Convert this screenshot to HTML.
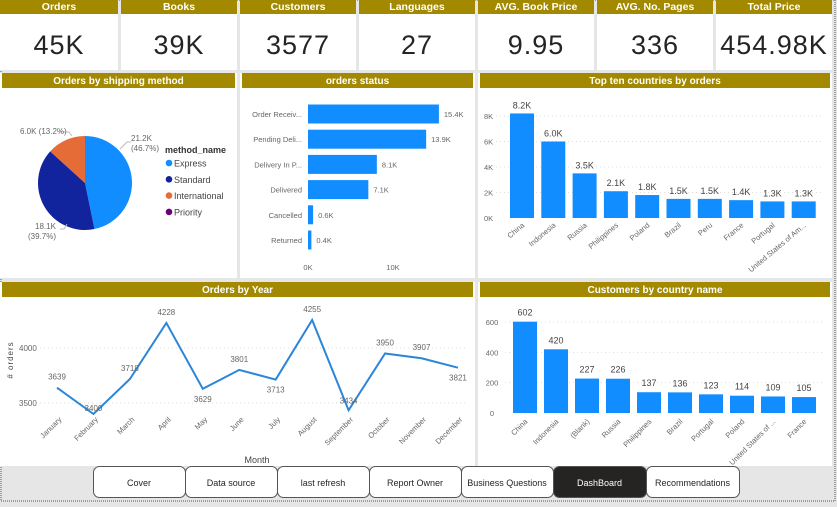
<!DOCTYPE html>
<html><head><meta charset="utf-8"><style>
html,body{margin:0;padding:0;background:#e6e6e6;}
body{width:837px;height:502px;overflow:hidden;position:relative;font-family:"Liberation Sans",sans-serif;}
svg text{font-family:"Liberation Sans",sans-serif;}
</style></head><body>
<svg id="dash" width="837" height="502" viewBox="0 0 837 502" xmlns="http://www.w3.org/2000/svg">
<rect x="0" y="0" width="837" height="502" fill="#e6e6e6"/>
<rect x="1" y="0" width="834" height="501" fill="none" stroke="#555" stroke-width="1" stroke-dasharray="1,1"/>
<g id="kpis"></g>
<g id="panels"></g>
<g id="pie"></g>
<g id="status"></g>
<g id="countries"></g>
<g id="line"></g>
<g id="cust"></g>
<g id="nav"></g>
</svg>
<script>
const kpiTitles=["Orders","Books","Customers","Languages","AVG. Book Price","AVG. No. Pages","Total Price"];
const kpiValues=["45K","39K","3577","27","9.95","336","454.98K"];
const pieLabels=["Express","Standard","International","Priority"];
const pieValues=[21.2,18.1,6.0,0.01];
const pieText=["21.2K","18.1K","6.0K (13.2%)",""];
const piePct=["(46.7%)","(39.7%)","",""];
const statusCats=["Order Receiv...","Pending Deli...","Delivery In P...","Delivered","Cancelled","Returned"];
const statusValues=[15.4,13.9,8.1,7.1,0.6,0.4];
const statusTicks=[0,10];
const topCats=["China","Indonesia","Russia","Philippines","Poland","Brazil","Peru","France","Portugal","United States of Am..."];
const topValues=[8.2,6.0,3.5,2.1,1.8,1.5,1.5,1.4,1.3,1.3];
const topTicks=[0,2,4,6,8];
const months=["January","February","March","April","May","June","July","August","September","October","November","December"];
const monthValues=[3639,3400,3718,4228,3629,3801,3713,4255,3434,3950,3907,3821];
const lineTicks=[3500,4000];
const custCats=["China","Indonesia","(Blank)","Russia","Philippines","Brazil","Portugal","Poland","United States of ...","France"];
const custValues=[602,420,227,226,137,136,123,114,109,105];
const custTicks=[0,200,400,600];
const navItems=["Cover","Data source","last refresh","Report Owner","Business Questions","DashBoard","Recommendations"];

const NS="http://www.w3.org/2000/svg";
function mk(parent,tag,attrs,txt){const e=document.createElementNS(NS,tag);for(const k in attrs)e.setAttribute(k,attrs[k]);if(txt!==undefined)e.textContent=txt;parent.appendChild(e);return e;}
const GOLD="#a38900",BLUE="#118dff",GR="#666";

// KPIs
const kg=document.getElementById('kpis');
const kx=[0,121,240,359,478,597,716];
kpiTitles.forEach((t,i)=>{
  const w=(i==0?118:116);
  const c=mk(kg,'rect',{x:kx[i],y:0,width:w,height:70,fill:'#fff'});
  
  
  mk(kg,'rect',{x:kx[i],y:0,width:w,height:14,fill:GOLD});
  const h=mk(kg,'text',{x:kx[i]+w/2,y:10,'text-anchor':'middle','font-size':10.5,'font-weight':'bold',fill:'#fff'},t);
  
  
  const v=mk(kg,'text',{x:kx[i]+w/2,y:54,'text-anchor':'middle','font-size':27,fill:'#252423','letter-spacing':'1'},kpiValues[i]);
  
  
});

// panels
const pg=document.getElementById('panels');
const panels=[[0,73,237,205,"Orders by shipping method"],[240,73,235,205,"orders status"],[478,73,354,205,"Top ten countries by orders"],[0,282,475,184,"Orders by Year"],[478,282,354,184,"Customers by country name"]];
panels.forEach(p=>{
  const r=mk(pg,'rect',{x:p[0],y:p[1],width:p[2],height:p[3],fill:'#fff'});
  
  
  mk(pg,'rect',{x:p[0]+2,y:p[1],width:p[2]-4,height:15,fill:GOLD});
  const t=mk(pg,'text',{x:p[0]+p[2]/2,y:p[1]+11,'text-anchor':'middle','font-size':10,'font-weight':'bold',fill:'#fff'},p[4]);
  
  
});

// pie
const pieG=document.getElementById('pie');
const pieColors=["#118dff","#12239e","#e66c37","#6b007b"];
const cx=85,cy=183,R=47;
const tot=pieValues.reduce((a,b)=>a+b,0);
let ang=0;
pieValues.forEach((v,i)=>{
  const a0=ang,a1=ang+v/tot*2*Math.PI;ang=a1;
  const x0=cx+R*Math.sin(a0),y0=cy-R*Math.cos(a0),x1=cx+R*Math.sin(a1),y1=cy-R*Math.cos(a1);
  const large=(a1-a0)>Math.PI?1:0;
  const s=mk(pieG,'path',{d:`M${cx},${cy}L${x0},${y0}A${R},${R} 0 ${large} 1 ${x1},${y1}Z`,fill:pieColors[i]});
  
  
});
mk(pieG,'polyline',{points:"120,149 127,142 131,142",fill:'none',stroke:'#bbb'});
mk(pieG,'text',{x:131,y:141,'font-size':8,fill:GR},pieText[0]);
mk(pieG,'text',{x:131,y:151,'font-size':8,fill:GR},piePct[0]);
mk(pieG,'polyline',{points:"60,132 69,132 72,136",fill:'none',stroke:'#bbb'});
mk(pieG,'text',{x:20,y:134,'font-size':8,fill:GR},pieText[2]);
mk(pieG,'polyline',{points:"60,229 64,229 67,224",fill:'none',stroke:'#bbb'});
mk(pieG,'text',{x:35,y:229,'font-size':8,fill:GR},pieText[1]);
mk(pieG,'text',{x:28,y:239,'font-size':8,fill:GR},piePct[1]);
mk(pieG,'text',{x:165,y:153,'font-size':9,'font-weight':'bold',fill:'#333'},'method_name');
pieLabels.forEach((l,i)=>{
  const g=mk(pieG,'g',{});
  
  
  mk(g,'circle',{cx:169,cy:163+i*16.3,r:3.3,fill:pieColors[i]});
  mk(g,'text',{x:174,y:166.5+i*16.3,'font-size':9,fill:'#444'},l);
});

// orders status
const sg=document.getElementById('status');
const sx=v=>308+v*8.5;
statusTicks.forEach(t=>{mk(sg,'text',{x:sx(t),y:270,'text-anchor':'middle','font-size':7.5,fill:GR},t+'K');});
statusCats.forEach((c,i)=>{
  const y=114+i*25.2;
  mk(sg,'text',{x:302,y:y+3,'text-anchor':'end','font-size':7.5,fill:GR},c);
  const b=mk(sg,'rect',{x:308,y:y-9.5,width:sx(statusValues[i])-308,height:19,fill:BLUE});
  
  
  mk(sg,'text',{x:sx(statusValues[i])+5,y:y+3,'font-size':7.5,fill:GR},statusValues[i].toFixed(1)+'K');
});

// top countries
const tg=document.getElementById('countries');
const ty=v=>218-v*12.75;
const tx=i=>522+i*31.3;
topTicks.forEach(t=>{
  mk(tg,'text',{x:484,y:ty(t)+3,'font-size':7.5,fill:GR},t+'K');
  if(t>0)mk(tg,'line',{x1:496,x2:822,y1:ty(t),y2:ty(t),stroke:'#ddd','stroke-dasharray':'1,3'});
});
topCats.forEach((c,i)=>{
  const b=mk(tg,'rect',{x:tx(i)-12,y:ty(topValues[i]),width:24,height:218-ty(topValues[i]),fill:BLUE});
  
  
  mk(tg,'text',{x:tx(i),y:ty(topValues[i])-5,'text-anchor':'middle','font-size':9,fill:'#444'},topValues[i].toFixed(1)+'K');
  mk(tg,'text',{x:tx(i)+3,y:226,'text-anchor':'end','font-size':7.5,fill:GR,transform:`rotate(-40 ${tx(i)+3} 226)`},c);
});

// line chart
const lg=document.getElementById('line');
const lx=i=>57+i*36.45;
const ly=v=>403-(v-3500)*0.11;
lineTicks.forEach(t=>{
  mk(lg,'text',{x:19,y:ly(t)+3,'font-size':8,fill:GR},t);
  mk(lg,'line',{x1:40,x2:465,y1:ly(t),y2:ly(t),stroke:'#ddd','stroke-dasharray':'1,3'});
});
mk(lg,'text',{x:13,y:360,'text-anchor':'middle','font-size':8,fill:'#444','letter-spacing':'1',transform:'rotate(-90 13 360)'},'# orders');
mk(lg,'text',{x:257,y:463,'text-anchor':'middle','font-size':9,fill:'#444'},'Month');
const pl=mk(lg,'polyline',{points:monthValues.map((v,i)=>lx(i)+','+ly(v)).join(' '),fill:'none',stroke:'#2b86d9','stroke-width':2});


monthValues.forEach((v,i)=>{
  const up=(i==0||i==2||i==3||i==5||i==7||i==9||i==10);
  const yy=up?ly(v)-8:ly(v)+13;
  const yA=(i==1)?ly(v)-3:(i==8?ly(v)-7:yy);
  mk(lg,'text',{x:lx(i),y:yA,'text-anchor':'middle','font-size':8,fill:GR},v);
  mk(lg,'text',{x:lx(i)+5,y:420,'text-anchor':'end','font-size':7.5,fill:GR,transform:`rotate(-45 ${lx(i)+5} 420)`},months[i]);
});

// customers
const cg=document.getElementById('cust');
const cyF=v=>413-v*0.1517;
const cxF=i=>525+i*31;
custTicks.forEach(t=>{
  mk(cg,'text',{x:492,y:cyF(t)+3,'text-anchor':'middle','font-size':7.5,fill:GR},t);
  if(t>0)mk(cg,'line',{x1:505,x2:822,y1:cyF(t),y2:cyF(t),stroke:'#ddd','stroke-dasharray':'1,3'});
});
custCats.forEach((c,i)=>{
  const b=mk(cg,'rect',{x:cxF(i)-12,y:cyF(custValues[i]),width:24,height:413-cyF(custValues[i]),fill:BLUE});
  
  
  mk(cg,'text',{x:cxF(i),y:cyF(custValues[i])-6,'text-anchor':'middle','font-size':9,fill:'#444'},custValues[i]);
  mk(cg,'text',{x:cxF(i)+3,y:422,'text-anchor':'end','font-size':7.5,fill:GR,transform:`rotate(-45 ${cxF(i)+3} 422)`},c);
});

// nav
const ng=document.getElementById('nav');
const nx=[93,185,277,369,461,553,646];
navItems.forEach((n,i)=>{
  const w=(i==5||i==6)?93:92;
  const act=n=="DashBoard";
  const r=mk(ng,'rect',{x:nx[i]+0.5,y:466.5,width:w,height:31,rx:6,fill:act?'#252423':'#fff',stroke:'#555','stroke-width':1});
  
  
  mk(ng,'text',{x:nx[i]+w/2,y:486,'text-anchor':'middle','font-size':9,fill:act?'#fff':'#252423'},n);
});
</script>
</body></html>
